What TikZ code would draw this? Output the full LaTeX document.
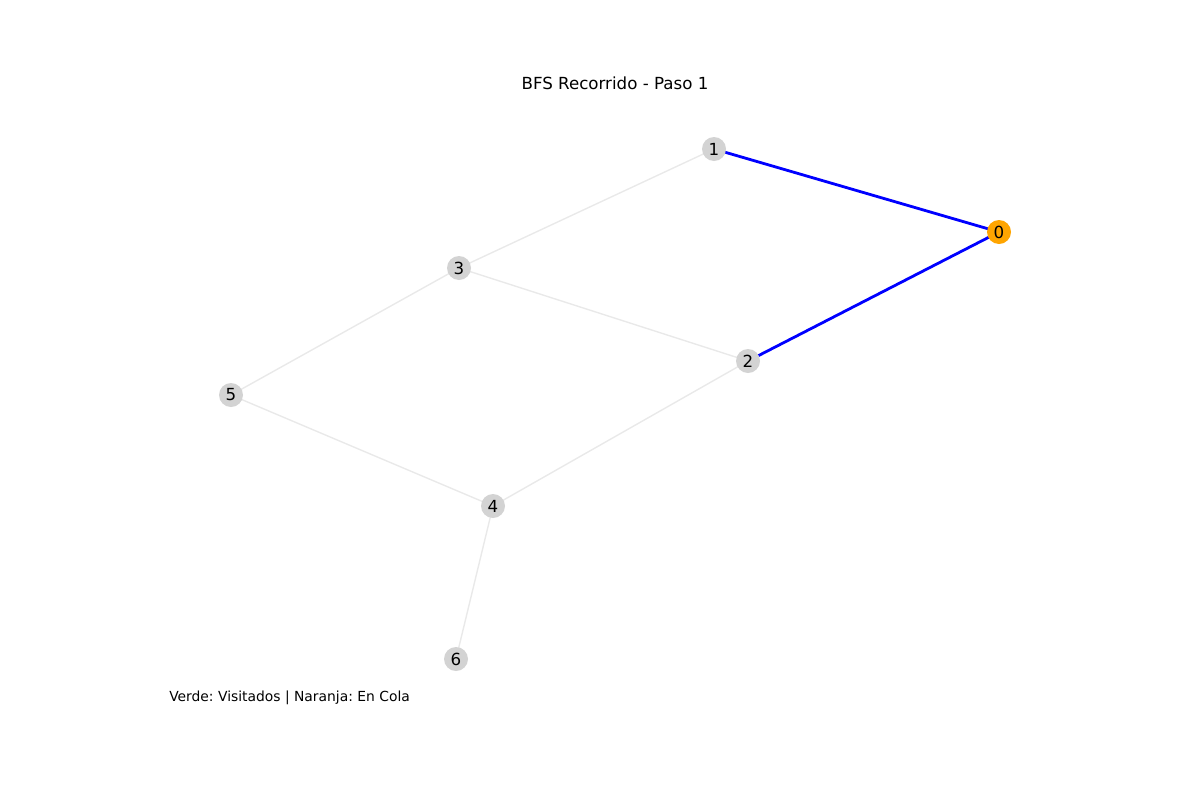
\documentclass[tikz,border=0pt]{standalone}
\usepackage{fontspec}
\setmainfont{DejaVu Sans}
\frenchspacing
\definecolor{nodegray}{RGB}{211,211,211}
\definecolor{edgegray}{RGB}{233,233,233}
\definecolor{queued}{RGB}{255,165,0}
\begin{document}
\begin{tikzpicture}[x=0.75pt,y=-0.75pt,
  vertex/.style={circle,fill=nodegray,draw=none,minimum size=18pt,inner sep=0pt,font=\fontsize{12.5}{14}\selectfont},
  qvertex/.style={vertex,fill=queued},
  plain/.style={draw=edgegray,line width=1.05pt},
  active/.style={draw=blue,line width=2.1pt}]
\useasboundingbox (0,0) rectangle (1200,800);
\node (title) at (615,83) {\fontsize{12.5}{14}\selectfont BFS Recorrido - Paso 1};
\node[anchor=west,inner sep=0pt] (legend) at (169,698) {\fontsize{10.4}{12}\selectfont Verde: Visitados | Naranja: En Cola};
\coordinate (p0) at (999,232);
\coordinate (p1) at (714,149);
\coordinate (p2) at (748,361);
\coordinate (p3) at (459,268);
\coordinate (p4) at (493,506);
\coordinate (p5) at (231,395);
\coordinate (p6) at (456,659);
\draw[plain] (p1) -- (p3);
\draw[plain] (p3) -- (p2);
\draw[plain] (p3) -- (p5);
\draw[plain] (p5) -- (p4);
\draw[plain] (p2) -- (p4);
\draw[plain] (p4) -- (p6);
\draw[active] (p1) -- (p0);
\draw[active] (p0) -- (p2);
\node[qvertex] (n0) at (p0) {0};
\node[vertex] (n1) at (p1) {1};
\node[vertex] (n2) at (p2) {2};
\node[vertex] (n3) at (p3) {3};
\node[vertex] (n4) at (p4) {4};
\node[vertex] (n5) at (p5) {5};
\node[vertex] (n6) at (p6) {6};
\end{tikzpicture}
\end{document}
